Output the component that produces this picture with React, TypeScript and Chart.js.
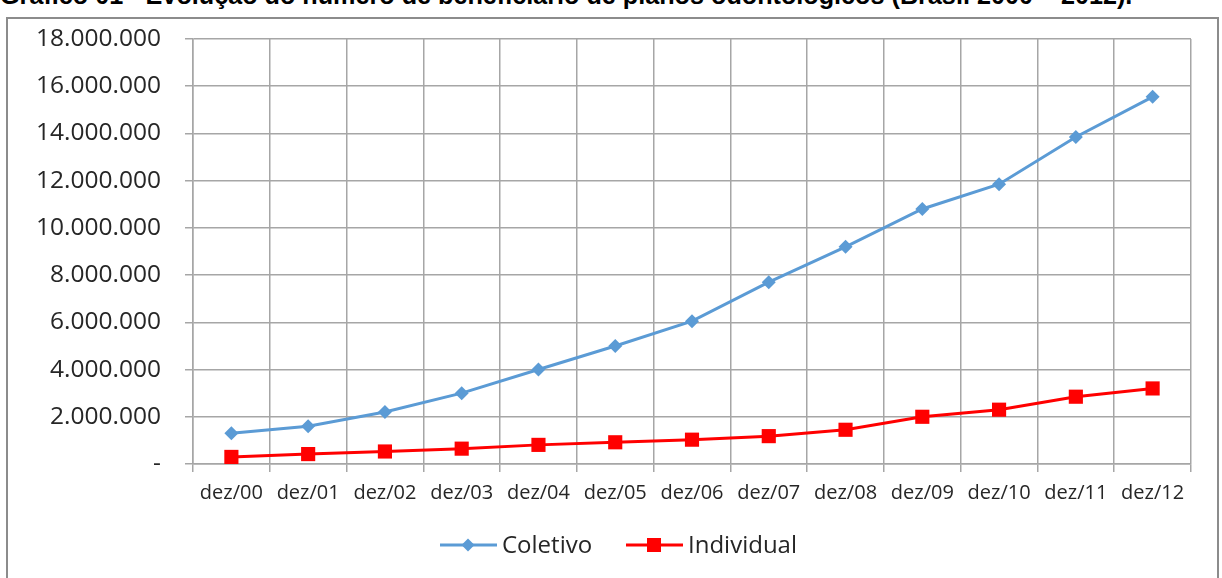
import React, { useEffect, useRef } from "react";
import { Chart, registerables } from "chart.js";

Chart.register(...registerables);

const TITLE = "Gráfico 01 - Evolução do número de beneficiário de planos odontológicos (Brasil 2000 – 2012).";
const categories = ["dez/00", "dez/01", "dez/02", "dez/03", "dez/04", "dez/05", "dez/06", "dez/07", "dez/08", "dez/09", "dez/10", "dez/11", "dez/12"];
const coletivo = [1300000, 1600000, 2200000, 3000000, 4000000, 5000000, 6050000, 7700000, 9200000, 10800000, 11850000, 13850000, 15550000];
const individual = [300000, 420000, 530000, 650000, 810000, 920000, 1030000, 1180000, 1450000, 2000000, 2300000, 2850000, 3200000];
const seriesNames = ["Coletivo", "Individual"];
const yMax = 18000000;
const yStep = 2000000;

const BLUE = "#5B9BD5";
const RED = "#FF0000";
const GRID = "#A6A6A6";
const TEXT = "#262626";
const FONT = "'Open Sans', sans-serif";

function fmt(v: number): string {
  if (v === 0) return "-";
  return Math.round(v).toString().replace(/\B(?=(\d{3})+(?!\d))/g, ".");
}

const legendPlugin = {
  id: "customLegend",
  afterDraw(chart: any) {
    const ctx = chart.ctx;
    const y = 525;
    const items = [
      { name: seriesNames[0], color: BLUE, x: 431, style: "diamond" },
      { name: seriesNames[1], color: RED, x: 617, style: "square" },
    ];
    ctx.save();
    ctx.font = `24px ${FONT}`;
    ctx.textBaseline = "middle";
    ctx.textAlign = "left";
    for (const it of items) {
      ctx.strokeStyle = it.color;
      ctx.lineWidth = 3;
      ctx.beginPath();
      ctx.moveTo(it.x, y);
      ctx.lineTo(it.x + 57, y);
      ctx.stroke();
      ctx.fillStyle = it.color;
      const cx = it.x + 28;
      if (it.style === "diamond") {
        ctx.beginPath();
        ctx.moveTo(cx - 6.5, y);
        ctx.lineTo(cx, y - 6.5);
        ctx.lineTo(cx + 6.5, y);
        ctx.lineTo(cx, y + 6.5);
        ctx.closePath();
        ctx.fill();
      } else {
        ctx.fillRect(cx - 7, y - 7, 14, 14);
      }
      ctx.fillStyle = TEXT;
      ctx.fillText(it.name, it.x + 62, y + 1);
    }
    ctx.restore();
  },
};

export default function App() {
  const ref = useRef<HTMLCanvasElement | null>(null);
  useEffect(() => {
    if (!ref.current) return;
    const chart = new Chart(ref.current, {
      type: "line",
      data: {
        labels: categories,
        datasets: [
          {
            label: seriesNames[0],
            data: coletivo,
            borderColor: BLUE,
            backgroundColor: BLUE,
            borderWidth: 3,
            pointStyle: "rectRot",
            pointRadius: 7,
            pointBorderWidth: 0,
            tension: 0,
          },
          {
            label: seriesNames[1],
            data: individual,
            borderColor: RED,
            backgroundColor: RED,
            borderWidth: 3,
            pointStyle: "rect",
            pointRadius: 10,
            pointBorderWidth: 0,
            tension: 0,
          },
        ],
      },
      options: {
        animation: false,
        responsive: false,
        maintainAspectRatio: false,
        layout: { autoPadding: false, padding: { left: 0, right: 23, top: 19, bottom: 54 } },
        plugins: { legend: { display: false }, tooltip: { enabled: false }, title: { display: false } },
        scales: {
          x: {
            offset: true,
            grid: { offset: true, color: GRID, lineWidth: 1.5, tickLength: 8, drawTicks: true },
            border: { color: GRID, width: 1.5 },
            ticks: { color: TEXT, font: { family: FONT, size: 20 }, padding: 9, maxRotation: 0, autoSkip: false },
            afterFit: (s: any) => { s.height = 60; s.paddingLeft = 0; s.paddingRight = 0; },
          },
          y: {
            min: 0,
            max: yMax,
            grid: { color: GRID, lineWidth: 1.5, tickLength: 8 },
            border: { color: GRID, width: 1.5 },
            ticks: {
              stepSize: yStep,
              color: TEXT,
              font: { family: FONT, size: 24.5 },
              padding: 24,
              callback: (v: any) => fmt(Number(v)),
            },
            afterFit: (s: any) => { s.width = 184; s.paddingTop = 0; s.paddingBottom = 0; },
          },
        },
      },
      plugins: [legendPlugin],
    });
    return () => chart.destroy();
  }, []);

  return (
    <div style={{ position: "fixed", left: 0, top: 0, width: 1222, height: 578, overflow: "hidden", background: "#fff" }}>
      <div style={{ position: "absolute", left: 0, top: -17, whiteSpace: "nowrap", font: "bold 25.2px 'Liberation Sans', Arial, sans-serif", lineHeight: "24px", color: "#000" }}>
        {TITLE}
      </div>
      <div style={{ position: "absolute", left: 6, top: 17, width: 1209, height: 620, border: "2px solid #8C8C8C" }} />
      <canvas ref={ref} width={1205} height={558} style={{ position: "absolute", left: 9, top: 20, width: 1205, height: 558 }} />
    </div>
  );
}
